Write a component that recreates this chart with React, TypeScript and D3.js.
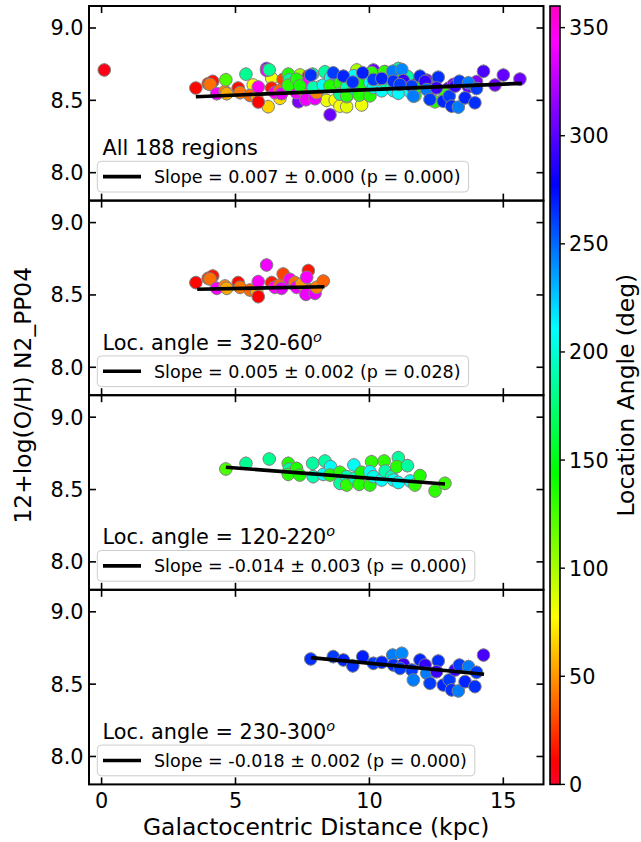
import React, { useMemo } from "react";
import * as d3 from "d3";

type Pt = [number, number, number]; // [distance kpc, 12+log(O/H), location angle deg]

// Loc. angle 320-60
const groupA: Pt[] = [
  [3.52, 8.585, 12], [3.98, 8.615, 25], [4.15, 8.631, 15], [4.05, 8.61, 40],
  [4.3, 8.546, 342], [4.61, 8.562, 45], [4.67, 8.546, 55], [5.1, 8.585, 14],
  [5.17, 8.553, 42], [5.54, 8.534, 38], [5.79, 8.523, 55], [5.85, 8.488, 10],
  [5.85, 8.592, 345], [6.16, 8.707, 340], [6.35, 8.585, 18], [6.47, 8.553, 344],
  [6.66, 8.569, 38], [6.78, 8.645, 28], [6.72, 8.546, 338], [7.03, 8.608, 346],
  [7.22, 8.585, 40], [7.28, 8.553, 341], [7.47, 8.576, 52], [7.72, 8.668, 16],
  [7.66, 8.622, 343], [7.78, 8.534, 35], [7.63, 8.504, 340], [7.97, 8.511, 338],
  [8.03, 8.553, 45], [8.28, 8.596, 36],
];

// Loc. angle 120-220
const groupB: Pt[] = [
  [4.64, 8.642, 125], [5.39, 8.681, 182], [6.26, 8.711, 182], [6.97, 8.681, 136],
  [7.01, 8.642, 185], [6.97, 8.605, 134], [7.28, 8.646, 136], [7.4, 8.6, 138],
  [7.88, 8.681, 186], [7.9, 8.589, 190], [8.34, 8.697, 186], [8.28, 8.605, 208],
  [8.55, 8.658, 210], [8.53, 8.6, 136], [8.9, 8.619, 134], [8.9, 8.543, 185],
  [9.15, 8.589, 190], [9.15, 8.531, 132], [9.42, 8.67, 208], [9.46, 8.577, 188],
  [9.62, 8.536, 134], [9.71, 8.619, 138], [10.02, 8.531, 136], [10.08, 8.692, 132],
  [10.02, 8.623, 208], [10.15, 8.589, 205], [10.46, 8.566, 210], [10.55, 8.697, 132],
  [10.59, 8.628, 188], [10.83, 8.589, 190], [10.9, 8.566, 208], [11.08, 8.72, 185],
  [11.02, 8.658, 134], [11.08, 8.549, 212], [11.42, 8.665, 186], [11.52, 8.559, 208],
  [11.7, 8.531, 132], [11.89, 8.596, 136], [12.45, 8.49, 132], [12.82, 8.543, 130],
];

// Loc. angle 230-300
const groupC: Pt[] = [
  [7.81, 8.674, 265], [8.65, 8.69, 262], [9.03, 8.667, 268], [9.38, 8.626, 265],
  [9.75, 8.69, 270], [10.15, 8.644, 262], [10.46, 8.651, 268], [10.87, 8.701, 245],
  [10.9, 8.632, 265], [11.21, 8.713, 242], [11.27, 8.637, 292], [11.58, 8.598, 262],
  [11.89, 8.667, 268], [12.08, 8.632, 290], [12.14, 8.575, 245], [12.26, 8.506, 262],
  [12.57, 8.66, 265], [12.51, 8.586, 292], [12.76, 8.494, 268], [12.98, 8.529, 262],
  [13.07, 8.46, 265], [13.2, 8.598, 292], [13.32, 8.453, 245], [13.36, 8.632, 262],
  [13.57, 8.517, 268], [13.7, 8.621, 245], [13.94, 8.483, 265], [14.0, 8.582, 262],
  [14.26, 8.701, 296], [11.64, 8.529, 245], [11.14, 8.609, 262],
];

// Regions outside the three angle ranges (only in the "All" panel)
const otherRegions: Pt[] = [
  [0.1, 8.71, 5], [5.66, 8.606, 78], [6.22, 8.456, 66], [6.35, 8.652, 80],
  [6.66, 8.514, 68], [6.78, 8.571, 82], [7.41, 8.675, 100], [8.15, 8.594, 80],
  [8.4, 8.5, 82], [8.72, 8.502, 78], [8.9, 8.46, 80], [9.15, 8.456, 84],
  [9.15, 8.525, 76], [9.53, 8.71, 100], [9.71, 8.468, 82], [7.35, 8.49, 310],
  [8.53, 8.4, 305], [10.15, 8.71, 305], [10.96, 8.629, 310], [11.77, 8.63, 305],
  [12.14, 8.64, 308], [12.39, 8.583, 305], [12.95, 8.583, 310], [13.14, 8.61, 312],
  [13.7, 8.594, 305], [14.0, 8.629, 310], [14.69, 8.606, 305], [15.0, 8.675, 303],
  [15.62, 8.647, 305], [6.16, 8.72, 306], [10.58, 8.698, 268],
];

const panelTitles = ["All 188 regions", "Loc. angle = 320-60", "Loc. angle = 120-220", "Loc. angle = 230-300"];
const titleDegree = [false, true, true, true];
const slopeLabels = [
  "Slope = 0.007 \u00b1 0.000 (p = 0.000)",
  "Slope = 0.005 \u00b1 0.002 (p = 0.028)",
  "Slope = -0.014 \u00b1 0.003 (p = 0.000)",
  "Slope = -0.018 \u00b1 0.002 (p = 0.000)",
];
const fitSlopes = [0.0076, 0.0038, -0.01418, -0.01777];
const fitIntercepts = [8.4982, 8.5254, 8.7198, 8.8218];
const fitStarts = [3.52, 3.57, 4.64, 7.81];
const fitEnds = [15.69, 8.32, 12.82, 14.28];

const xTicks = [0, 5, 10, 15];
const yTicks = [8.0, 8.5, 9.0];
const cbarTicks = [0, 50, 100, 150, 200, 250, 300, 350];
const errSize = 0.05;

// matplotlib gist_rainbow
const cmapPos = [0, 0.03, 0.215, 0.4, 0.586, 0.77, 0.954, 1];
const cmapColors = ["rgb(255,0,41)", "rgb(255,0,0)", "rgb(255,255,0)", "rgb(0,255,0)", "rgb(0,255,255)", "rgb(0,0,255)", "rgb(255,0,255)", "rgb(255,0,191)"];

const FONT = "DejaVu Sans";

export default function App() {
  const W = 641, H = 842;
  const left = 89, right = 543.5, top = 6, panelH = 194.6;
  const nP = 4;
  const bottom = top + panelH * nP;
  const x = d3.scaleLinear().domain([-0.47, 16.5]).range([left, right]);
  const cmap = d3.scaleLinear<string>().domain(cmapPos).range(cmapColors).interpolate(d3.interpolateRgb);
  const color = (a: number) => cmap(a / 360);
  const cbX = 550, cbW = 10;
  const cbScale = d3.scaleLinear().domain([0, 360]).range([bottom, top]);

  const panels: Pt[][] = [[...otherRegions, ...groupA, ...groupB, ...groupC], groupA, groupB, groupC];

  const legendWidths = useMemo(() => {
    const ctx = document.createElement("canvas").getContext("2d")!;
    ctx.font = `17.5px "${FONT}"`;
    return slopeLabels.map((s) => ctx.measureText(s).width);
  }, []);

  const tickLen = 7;
  const tickW = 1.6;

  return (
    <svg width={W} height={H} style={{ position: "absolute", left: 0, top: 0, background: "#fff" }} fontFamily={FONT}>
      <defs>
        <linearGradient id="cbarGrad" x1="0" y1="1" x2="0" y2="0">
          {cmapPos.map((p, i) => (
            <stop key={i} offset={p} stopColor={cmapColors[i]} />
          ))}
        </linearGradient>
      </defs>
      {panels.map((pts, pi) => {
        const pTop = top + pi * panelH;
        const pBot = pTop + panelH;
        const y = d3.scaleLinear().domain([7.807, 9.152]).range([pBot, pTop]);
        const line = d3.line<number>().x((d) => x(d)).y((d) => y(fitIntercepts[pi] + fitSlopes[pi] * d));
        const legTop = pTop + 155.3;
        const legH = 30.7;
        const legX = 97.3;
        const legW = 154 - legX + legendWidths[pi] + 8;
        return (
          <g key={pi}>
            {pts.map((d, i) => (
              <line key={"e" + i} x1={x(d[0])} x2={x(d[0])} y1={y(d[1] - errSize)} y2={y(d[1] + errSize)} stroke="#b5b5b5" strokeWidth={1} />
            ))}
            {pts.map((d, i) => (
              <circle key={"c" + i} cx={x(d[0])} cy={y(d[1])} r={6.3} fill={color(d[2])} stroke="#808080" strokeWidth={1} />
            ))}
            <path d={line([fitStarts[pi], fitEnds[pi]]) || ""} stroke="#000" strokeWidth={3.6} fill="none" />
            <text x={102.5} y={pTop + 149} fontSize={20.8} fill="#000">
              {panelTitles[pi]}
              {titleDegree[pi] && (
                <tspan fontStyle="italic" fontSize={14.5} dy={-8}>o</tspan>
              )}
            </text>
            <rect x={legX} y={legTop} width={legW} height={legH} rx={4} ry={4} fill="#fff" fillOpacity={0.8} stroke="#cccccc" strokeWidth={1} />
            <line x1={103} x2={141} y1={legTop + legH / 2} y2={legTop + legH / 2} stroke="#000" strokeWidth={3.6} />
            <text x={154} y={legTop + legH / 2 + 6.3} fontSize={17.5} fill="#000">{slopeLabels[pi]}</text>
            {xTicks.map((t) => (
              <g key={"xt" + t}>
                <line x1={x(t)} x2={x(t)} y1={pBot} y2={pBot - tickLen} stroke="#000" strokeWidth={tickW} />
                <line x1={x(t)} x2={x(t)} y1={pTop} y2={pTop + tickLen} stroke="#000" strokeWidth={tickW} />
              </g>
            ))}
            {yTicks.map((t) => (
              <g key={"yt" + t}>
                <line x1={left} x2={left + tickLen} y1={y(t)} y2={y(t)} stroke="#000" strokeWidth={tickW} />
                <line x1={right} x2={right - tickLen} y1={y(t)} y2={y(t)} stroke="#000" strokeWidth={tickW} />
                <text x={83.5} y={y(t)} dy="0.36em" textAnchor="end" fontSize={20.8}>{t.toFixed(1)}</text>
              </g>
            ))}
            <rect x={left} y={pTop} width={right - left} height={panelH} fill="none" stroke="#000" strokeWidth={2} />
          </g>
        );
      })}
      {xTicks.map((t) => (
        <text key={"xl" + t} x={x(t)} y={bottom + 23.5} textAnchor="middle" fontSize={20.8}>{t}</text>
      ))}
      <text x={(left + right) / 2} y={835} textAnchor="middle" fontSize={23.4}>Galactocentric Distance (kpc)</text>
      <text transform={`translate(31,${(top + bottom) / 2}) rotate(-90)`} textAnchor="middle" fontSize={23.4}>12+log(O/H) N2_PP04</text>
      <rect x={cbX} y={top} width={cbW} height={bottom - top} fill="url(#cbarGrad)" stroke="#000" strokeWidth={1.6} />
      {cbarTicks.map((t) => (
        <g key={"cb" + t}>
          <line x1={cbX + cbW} x2={cbX + cbW + 5} y1={cbScale(t)} y2={cbScale(t)} stroke="#000" strokeWidth={1.4} />
          <text x={cbX + cbW + 9} y={cbScale(t)} dy="0.36em" fontSize={20.8}>{t}</text>
        </g>
      ))}
      <text transform={`translate(634,${(top + bottom) / 2}) rotate(-90)`} textAnchor="middle" fontSize={23.4}>Location Angle (deg)</text>
    </svg>
  );
}
